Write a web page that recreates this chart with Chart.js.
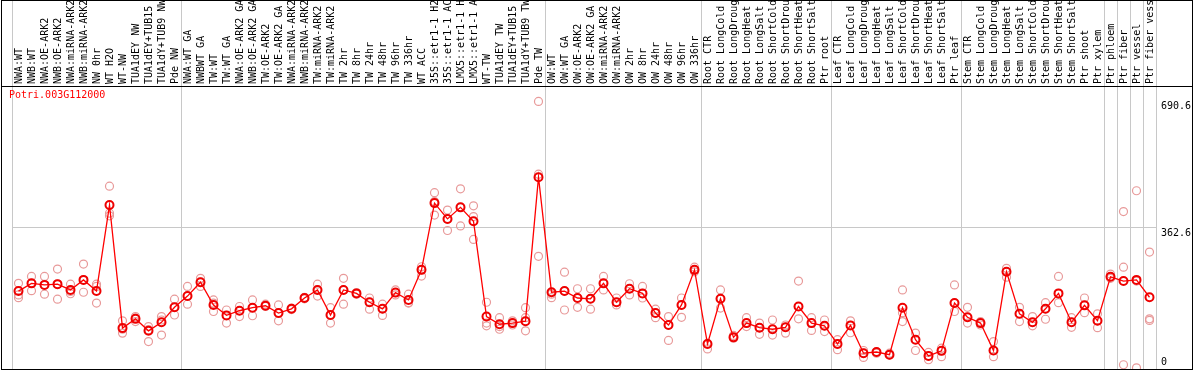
<!DOCTYPE html>
<html>
<head>
<meta charset="utf-8">
<script src="https://cdn.jsdelivr.net/npm/chart.js@4/dist/chart.umd.min.js"></script>
<style>
  html,body{margin:0;padding:0;background:#fff}
  canvas{display:block}
</style>
</head>
<body>
<canvas id="chartGene" width="1194" height="370"></canvas>
<script>
const GENE = 'Potri.003G112000';

// sample names as shown (header truncates at 14 chars)
const SAMPLES = [
  'NWA:WT','NWB:WT','NWA:OE-ARK2','NWB:OE-ARK2','NWA:miRNA-ARK2','NWB:miRNA-ARK2','NW 0hr','WT H2O','WT-NW',
  'TUA1dEY NW','TUA1dEY+TUB15','TUA1dY+TUB9 NW','Pde NW',
  'NWA:WT GA','NWBWT GA','TW:WT','TW:WT GA','NWA:OE-ARK2 GA','NWB:OE-ARK2 GA','TW:OE-ARK2','TW:OE-ARK2 GA',
  'NWA:miRNA-ARK2','NWB:miRNA-ARK2','TW:miRNA-ARK2','TW:miRNA-ARK2','TW 2hr','TW 8hr','TW 24hr','TW 48hr','TW 96hr','TW 336hr',
  'WT ACC','35S::etr1-1 H2','35S::etr1-1 AC','LMX5::etr1-1 H','LMX5::etr1-1 A','WT-TW','TUA1dEY TW','TUA1dEY+TUB15','TUA1dY+TUB9 TW','Pde TW',
  'OW:WT','OW:WT GA','OW:OE-ARK2','OW:OE-ARK2 GA','OW:miRNA-ARK2','OW:miRNA-ARK2','OW 2hr','OW 8hr','OW 24hr','OW 48hr','OW 96hr','OW 336hr',
  'Root CTR','Root LongCold','Root LongDroug','Root LongHeat','Root LongSalt','Root ShortCold','Root ShortDrou','Root ShortHeat','Root ShortSalt','Ptr root',
  'Leaf CTR','Leaf LongCold','Leaf LongDroug','Leaf LongHeat','Leaf LongSalt','Leaf ShortCold','Leaf ShortDrou','Leaf ShortHeat','Leaf ShortSalt','Ptr leaf',
  'Stem CTR','Stem LongCold','Stem LongDroug','Stem LongHeat','Stem LongSalt','Stem ShortCold','Stem ShortDrou','Stem ShortHeat','Stem ShortSalt','Ptr shoot',
  'Ptr xylem','Ptr phloem','Ptr fiber','Ptr vessel','Ptr fiber vess'
];

// mean expression per sample
const MEAN = [
  199,219,215,217,202,228,199,422,103,127,96,118,157,
  186,222,163,136,148,156,161,142,153,181,202,137,202,193,170,153,195,176,254,427,386,416,380,133,113,116,121,494,
  196,199,181,179,219,170,205,193,142,111,163,254,
  62,179,79,116,104,100,105,159,116,109,
  62,110,38,41,34,156,73,31,44,168,
  131,116,45,249,140,118,153,193,118,162,
  122,236,225,228,183
];

// replicates
const REP1 = [
  219,237,237,256,217,269,217,471,122,133,107,133,178,
  211,232,176,150,159,176,165,163,155,183,217,156,232,195,181,165,202,191,262,454,409,464,420,170,130,122,156,690.6,
  196,248,205,205,237,181,218,211,152,133,181,261,
  64,202,84,130,116,124,111,225,130,124,
  73,122,45,40,38,202,90,40,51,215,
  157,120,68,258,157,133,169,237,130,181,
  140,243,405,459,300
];
const REP2 = [
  189,219,215,217,198,228,211,401,100,129,99,124,157,
  186,222,168,136,148,156,161,142,153,181,202,137,202,193,170,153,195,169,254,431,386,416,392,116,107,116,130,502,
  191,199,181,179,219,170,205,193,142,111,163,254,
  62,179,79,116,104,100,105,159,116,109,
  62,110,38,41,34,143,73,31,44,168,
  131,116,45,249,140,118,153,193,118,162,
  122,236,261,225,127
];
const REP3 = [
  182,200,191,178,192,196,168,394,90,120,68,85,137,
  165,211,146,116,133,135,159,122,151,179,186,116,165,191,152,136,189,168,238,396,356,368,333,109,100,111,96,289,
  182,150,157,152,202,163,189,181,130,71,131,249,
  49,155,77,107,87,85,90,127,97,94,
  47,91,27,38,33,120,45,21,29,146,
  116,111,29,235,120,109,126,169,105,143,
  104,232,8,0,123
];

const Y_TICKS = [0, 362.6, 690.6];
const Y_GRID = [362.6];
// category indexes where a group separator line sits (left edge of that column)
const GROUP_EDGES = [0, 13, 41, 53, 63, 73, 84, 85, 86, 87, 88];

const GRAY = '#c8c8c8';
const NONE = 'rgba(0,0,0,0)';
const MONO = 'DejaVu Sans Mono';

const edgeColor = c => (c.index === undefined || GROUP_EDGES.includes(c.index)) ? GRAY : NONE;

const framePlugin = {
  id: 'frame',
  afterDraw(chart) {
    const {ctx, chartArea} = chart;
    ctx.save();
    ctx.strokeStyle = '#000';
    ctx.lineWidth = 1;
    ctx.strokeRect(1.5, 0.5, 1191, 369);
    ctx.beginPath();
    ctx.moveTo(1, chartArea.top - 0.5);
    ctx.lineTo(1193, chartArea.top - 0.5);
    ctx.stroke();
    ctx.fillStyle = '#ff0000';
    ctx.font = '10px ' + MONO;
    ctx.textBaseline = 'top';
    ctx.fillText(GENE, 9, chartArea.top + 3);
    ctx.restore();
  }
};

function repSet(data) {
  return {
    data, showLine:false, order:2,
    pointRadius:4, pointBorderWidth:1.2,
    pointBorderColor:'#e89a9a', pointBackgroundColor:NONE
  };
}

const ctx = document.getElementById('chartGene').getContext('2d');
new Chart(ctx, {
  type:'line',
  data:{
    labels:SAMPLES,
    datasets:[
      { data:MEAN, order:0, borderColor:'#ff0000', borderWidth:1.3, tension:0,
        pointRadius:4, pointBorderWidth:2, pointBorderColor:'#ee0000', pointBackgroundColor:NONE },
      repSet(REP1), repSet(REP2), repSet(REP3)
    ]
  },
  options:{
    responsive:false, animation:false, devicePixelRatio:1,
    layout:{ autoPadding:false, padding:{ left:12, top:0, right:0, bottom:1 } },
    plugins:{ legend:{display:false}, tooltip:{enabled:false} },
    scales:{
      x:{
        type:'category', position:'top', offset:true,
        grid:{ offset:true, color:edgeColor, tickColor:edgeColor, tickLength:87, lineWidth:1 },
        border:{ display:false },
        ticks:{ autoSkip:false, minRotation:90, maxRotation:90, padding:-84, labelOffset:13,
                color:'#000', font:{ family:MONO, size:10 } },
        afterFit:s => { s.height = 87; s.paddingLeft = 0; s.paddingRight = 0; }
      },
      y:{
        type:'linear', position:'right', min:-3, max:728,
        afterBuildTicks:s => { s.ticks = Y_TICKS.map(v => ({value:v})); },
        grid:{ color:c => (c.tick && Y_GRID.includes(c.tick.value)) ? GRAY : NONE, drawTicks:false },
        border:{ display:false },
        ticks:{ padding:5, color:'#000', font:{ family:MONO, size:10, lineHeight:1 },
                callback:v => v === 0 ? [String(v), ''] : ['', String(v)] },
        afterFit:s => { s.width = 38; s.paddingTop = 0; s.paddingBottom = 0; }
      }
    }
  },
  plugins:[framePlugin]
});
</script>
</body>
</html>
